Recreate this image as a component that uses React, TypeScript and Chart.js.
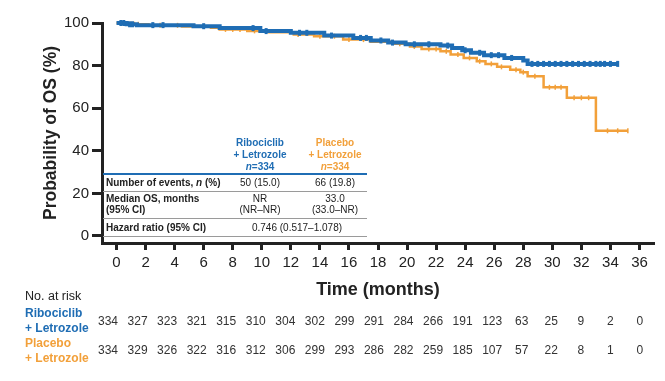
import React, { useEffect, useRef } from 'react';
import { Chart, registerables } from 'chart.js';

Chart.register(...registerables);

// ---------- data ----------
const xTickValues = [0, 2, 4, 6, 8, 10, 12, 14, 16, 18, 20, 22, 24, 26, 28, 30, 32, 34, 36];
const yTickValues = [0, 20, 40, 60, 80, 100];

// Ribociclib + Letrozole: step times (months) and survival (%) after each step
const riboTimes = [0, 0.7, 1.4, 5.3, 7.1, 9.9, 12.0, 14.3, 16.3, 17.5, 18.7, 19.9, 22.3, 23.1, 23.8, 24.4, 25.3, 26.7, 28.0, 28.3];
const riboSurv = [100, 99.4, 99.0, 98.5, 97.6, 96.2, 95.4, 94.1, 93.0, 91.8, 90.8, 90.0, 89.4, 88.3, 87.2, 86.0, 84.9, 83.6, 82.4, 80.8];
const riboEnd = 34.5;
const riboCensor = [0.3, 0.5, 0.9, 1.1, 2.5, 3.2, 6.0, 9.4, 10.3, 12.6, 13.1, 14.8, 16.8, 17.2, 18.2, 19.0, 20.5, 21.5, 22.8, 24.0, 25.0, 25.8, 26.3, 27.2, 28.6, 29.0, 29.4, 29.8, 30.2, 30.6, 31.0, 31.4, 31.8, 32.2, 32.6, 33.0, 33.3, 33.6, 34.0, 34.5];

// Placebo + Letrozole
const placTimes = [0, 1.2, 2.2, 4.5, 6.5, 7.1, 9.0, 10.5, 12.2, 13.6, 15.6, 17.5, 19.0, 20.2, 21.0, 22.3, 23.0, 23.9, 24.8, 25.4, 26.2, 27.1, 27.8, 28.3, 29.4, 31.0, 33.0];
const placSurv = [100, 99.4, 98.9, 98.4, 97.8, 97.0, 96.3, 95.6, 94.6, 93.8, 92.2, 91.2, 90.3, 89.0, 87.8, 86.7, 85.2, 83.6, 82.0, 80.8, 79.4, 78.1, 76.9, 75.0, 69.8, 64.9, 49.4];
const placEnd = 35.2;
const placCensor = [1.5, 3.0, 4.2, 7.5, 8.0, 8.5, 9.5, 12.5, 14.0, 15.0, 16.0, 17.0, 19.5, 20.5, 21.5, 22.0, 22.7, 23.5, 24.3, 25.0, 25.8, 26.5, 27.5, 28.0, 28.8, 29.8, 30.2, 30.6, 31.5, 32.0, 32.5, 33.8, 34.5, 35.2];

const riskRibo = [334, 327, 323, 321, 315, 310, 304, 302, 299, 291, 284, 266, 191, 123, 63, 25, 9, 2, 0];
const riskPlac = [334, 329, 326, 322, 316, 312, 306, 299, 293, 286, 282, 259, 185, 107, 57, 22, 8, 1, 0];

const BLUE = '#1f6db4';
const ORANGE = '#f2a03a';
const INK = '#222222';
const FONT = '"Liberation Sans", Arial, Helvetica, sans-serif';

function survivalAt(times: number[], surv: number[], t: number): number {
  let v = surv[0];
  for (let i = 0; i < times.length; i++) {
    if (times[i] <= t) v = surv[i];
  }
  return v;
}

function stepData(times: number[], surv: number[], end: number) {
  const pts = times.map((t, i) => ({ x: t, y: surv[i] }));
  pts.push({ x: end, y: surv[surv.length - 1] });
  return pts;
}

type Part = { text: string; font: string; color: string };

function drawParts(ctx: CanvasRenderingContext2D, parts: Part[], x: number, y: number, align: 'left' | 'center') {
  let total = 0;
  for (const p of parts) {
    ctx.font = p.font;
    total += ctx.measureText(p.text).width;
  }
  let cx = align === 'center' ? x - total / 2 : x;
  ctx.textAlign = 'left';
  ctx.textBaseline = 'middle';
  for (const p of parts) {
    ctx.font = p.font;
    ctx.fillStyle = p.color;
    ctx.fillText(p.text, cx, y);
    cx += ctx.measureText(p.text).width;
  }
}

const overlayPlugin = {
  id: 'overlay',
  afterDraw(chart: any) {
    const ctx: CanvasRenderingContext2D = chart.ctx;
    ctx.save();
    const b10 = `bold 10px ${FONT}`;
    const bi10 = `italic bold 10px ${FONT}`;
    const r10 = `10px ${FONT}`;
    const c1 = 260;
    const c2 = 335;
    const left = 106;
    // header
    drawParts(ctx, [{ text: 'Ribociclib', font: b10, color: BLUE }], c1, 143, 'center');
    drawParts(ctx, [{ text: '+ Letrozole', font: b10, color: BLUE }], c1, 155, 'center');
    drawParts(ctx, [{ text: 'n', font: bi10, color: BLUE }, { text: '=334', font: b10, color: BLUE }], c1, 167, 'center');
    drawParts(ctx, [{ text: 'Placebo', font: b10, color: ORANGE }], c2, 143, 'center');
    drawParts(ctx, [{ text: '+ Letrozole', font: b10, color: ORANGE }], c2, 155, 'center');
    drawParts(ctx, [{ text: 'n', font: bi10, color: ORANGE }, { text: '=334', font: b10, color: ORANGE }], c2, 167, 'center');
    // lines
    ctx.strokeStyle = BLUE;
    ctx.lineWidth = 2;
    ctx.beginPath();
    ctx.moveTo(103, 174);
    ctx.lineTo(367, 174);
    ctx.stroke();
    ctx.strokeStyle = '#9a9a9a';
    ctx.lineWidth = 1;
    for (const ly of [191.5, 218.5, 236.5]) {
      ctx.beginPath();
      ctx.moveTo(103, ly);
      ctx.lineTo(367, ly);
      ctx.stroke();
    }
    // rows
    drawParts(ctx, [
      { text: 'Number of events, ', font: b10, color: INK },
      { text: 'n', font: bi10, color: INK },
      { text: ' (%)', font: b10, color: INK },
    ], left, 183, 'left');
    drawParts(ctx, [{ text: '50 (15.0)', font: r10, color: INK }], c1, 183, 'center');
    drawParts(ctx, [{ text: '66 (19.8)', font: r10, color: INK }], c2, 183, 'center');
    drawParts(ctx, [{ text: 'Median OS, months', font: b10, color: INK }], left, 199, 'left');
    drawParts(ctx, [{ text: '(95% CI)', font: b10, color: INK }], left, 210, 'left');
    drawParts(ctx, [{ text: 'NR', font: r10, color: INK }], c1, 199, 'center');
    drawParts(ctx, [{ text: '(NR\u2013NR)', font: r10, color: INK }], c1, 210, 'center');
    drawParts(ctx, [{ text: '33.0', font: r10, color: INK }], c2, 199, 'center');
    drawParts(ctx, [{ text: '(33.0\u2013NR)', font: r10, color: INK }], c2, 210, 'center');
    drawParts(ctx, [{ text: 'Hazard ratio (95% CI)', font: b10, color: INK }], left, 228, 'left');
    drawParts(ctx, [{ text: '0.746 (0.517\u20131.078)', font: r10, color: INK }], 297, 228, 'center');

    // at-risk table
    const b12 = `bold 12px ${FONT}`;
    drawParts(ctx, [{ text: 'No. at risk', font: `12.5px ${FONT}`, color: INK }], 25, 297, 'left');
    drawParts(ctx, [{ text: 'Ribociclib', font: b12, color: BLUE }], 25, 314, 'left');
    drawParts(ctx, [{ text: '+ Letrozole', font: b12, color: BLUE }], 25, 329, 'left');
    drawParts(ctx, [{ text: 'Placebo', font: b12, color: ORANGE }], 25, 344, 'left');
    drawParts(ctx, [{ text: '+ Letrozole', font: b12, color: ORANGE }], 25, 359, 'left');
    const r12 = `12px ${FONT}`;
    const startX = 108;
    const stepX = 29.55;
    riskRibo.forEach((n, i) => {
      drawParts(ctx, [{ text: String(n), font: r12, color: '#333' }], startX + i * stepX, 322, 'center');
    });
    riskPlac.forEach((n, i) => {
      drawParts(ctx, [{ text: String(n), font: r12, color: '#333' }], startX + i * stepX, 351, 'center');
    });
    ctx.restore();
  },
};

export default function App() {
  const ref = useRef<HTMLCanvasElement | null>(null);
  useEffect(() => {
    if (!ref.current) return;
    const chart = new Chart(ref.current, {
      type: 'line',
      data: {
        datasets: [
          {
            label: 'ribo-censor',
            data: riboCensor.map((t) => ({ x: t, y: survivalAt(riboTimes, riboSurv, t) })),
            showLine: false,
            pointStyle: 'line',
            rotation: 90,
            pointRadius: 3,
            pointBorderWidth: 3,
            pointBorderColor: BLUE,
            pointBackgroundColor: BLUE,
            borderColor: BLUE,
            clip: false,
          } as any,
          {
            label: 'Ribociclib + Letrozole',
            data: stepData(riboTimes, riboSurv, riboEnd),
            stepped: 'before',
            borderColor: BLUE,
            borderWidth: 4,
            pointRadius: 0,
            fill: false,
            clip: false,
          } as any,
          {
            label: 'plac-censor',
            data: placCensor.map((t) => ({ x: t, y: survivalAt(placTimes, placSurv, t) })),
            showLine: false,
            pointStyle: 'line',
            rotation: 90,
            pointRadius: 2.5,
            pointBorderWidth: 1.5,
            pointBorderColor: ORANGE,
            pointBackgroundColor: ORANGE,
            borderColor: ORANGE,
            clip: false,
          } as any,
          {
            label: 'Placebo + Letrozole',
            data: stepData(placTimes, placSurv, placEnd),
            stepped: 'before',
            borderColor: ORANGE,
            borderWidth: 2.5,
            pointRadius: 0,
            fill: false,
            clip: false,
          } as any,
        ],
      },
      options: {
        animation: false,
        responsive: false,
        maintainAspectRatio: false,
        layout: { padding: { left: 0, right: 11, top: 23, bottom: 0 } },
        plugins: {
          legend: { display: false },
          tooltip: { enabled: false },
        },
        scales: {
          x: {
            type: 'linear',
            min: -1,
            max: 37,
            afterBuildTicks: (scale: any) => {
              scale.ticks = xTickValues.map((v) => ({ value: v }));
            },
            afterFit: (scale: any) => {
              scale.height = 138;
            },
            grid: {
              display: true,
              drawOnChartArea: false,
              drawTicks: true,
              tickLength: 7,
              tickWidth: 3,
              tickColor: INK,
              color: INK,
            },
            border: { display: true, width: 3, color: INK },
            ticks: {
              autoSkip: false,
              maxRotation: 0,
              padding: 4,
              color: INK,
              font: { family: FONT, size: 15 },
            },
            title: {
              display: true,
              text: 'Time (months)',
              color: INK,
              font: { family: FONT, size: 18, weight: 'bold' },
              padding: { top: 0, bottom: 80 },
            },
          },
          y: {
            type: 'linear',
            min: -3.3,
            max: 100,
            afterBuildTicks: (scale: any) => {
              scale.ticks = yTickValues.map((v) => ({ value: v }));
            },
            afterFit: (scale: any) => {
              scale.width = 102;
            },
            grid: {
              display: true,
              drawOnChartArea: false,
              drawTicks: true,
              tickLength: 10,
              tickWidth: 3,
              tickColor: INK,
              color: INK,
            },
            border: { display: true, width: 3, color: INK },
            ticks: {
              padding: 3,
              color: INK,
              font: { family: FONT, size: 15 },
            },
            title: {
              display: true,
              text: 'Probability of OS (%)',
              color: INK,
              font: { family: FONT, size: 17.5, weight: 'bold' },
              padding: { top: 41, bottom: 0 },
            },
          },
        },
      } as any,
      plugins: [overlayPlugin],
    });
    return () => chart.destroy();
  }, []);

  return (
    <div style={{ position: 'fixed', left: 0, top: 0, width: 665, height: 381, background: '#fff' }}>
      <canvas ref={ref} width={665} height={381} style={{ width: 665, height: 381, display: 'block' }} />
    </div>
  );
}
